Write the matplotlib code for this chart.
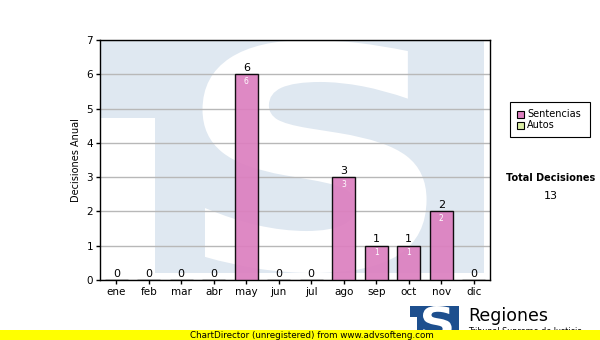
import numpy as np
import matplotlib
matplotlib.use('Agg')
import matplotlib.pyplot as plt
from matplotlib.patches import Rectangle, PathPatch
from matplotlib.textpath import TextPath
from matplotlib.font_manager import FontProperties
from matplotlib.transforms import Affine2D

# ---- data --------------------------------------------------------------------
months = ['ene', 'feb', 'mar', 'abr', 'may', 'jun', 'jul', 'ago', 'sep', 'oct', 'nov', 'dic']
sentencias = [0, 0, 0, 0, 6, 0, 0, 3, 1, 1, 2, 0]
series_names = ['Sentencias', 'Autos']
total_label = 'Total Decisiones'
total_value = 13

PINK = '#dc7fbf'
GREEN = '#dcefa6'
WM = '#dfe8f1'
LOGO = '#1d4f8e'

W, H = 600, 340
fig = plt.figure(figsize=(W / 100, H / 100), dpi=100)

# background canvas in pixel coordinates (y down)
bg = fig.add_axes([0, 0, 1, 1], zorder=0)
bg.set_xlim(0, W); bg.set_ylim(H, 0); bg.axis('off')


def s_glyph(x0, y0, x1, y1):
    tp = TextPath((0, 0), 'S', size=100, prop=FontProperties(family='DejaVu Sans', weight='bold'))
    ext = tp.get_extents()
    sx = (x1 - x0) / ext.width
    sy = (y1 - y0) / ext.height
    tr = Affine2D().translate(-ext.x0, -ext.y0).scale(sx, -sy).translate(x0, y1)
    return tr.transform_path(tp)


def logo(x0, y0, x1, y1, blue, white):
    w, h = x1 - x0, y1 - y0
    bg.add_patch(Rectangle((x0, y0), w, h, fc=blue, ec='none'))
    bg.add_patch(Rectangle((x0, y0 + 0.335 * h), 0.14 * w, 0.67 * h, fc=white, ec='none'))
    bg.add_patch(PathPatch(s_glyph(x0 + 0.265 * w, y0, x0 + 0.85 * w, y1), fc=white, ec='none'))


# watermark behind plot
logo(101, 40, 484, 273, WM, 'white')

# small logo + footer
logo(410, 306, 459, 338, LOGO, 'white')
bg.text(468, 316, 'Regiones', fontsize=12.5, va='center', ha='left', family='DejaVu Sans')
bg.text(468, 332, 'Tribunal Supremo de Justicia', fontsize=5.8, va='center', ha='left')
bg.add_patch(Rectangle((0, 330), W, 10, fc='#ffff00', ec='none', zorder=5))
bg.text(190, 335, 'ChartDirector (unregistered) from www.advsofteng.com', fontsize=6.3,
        va='center', ha='left', zorder=6)

# ---- main chart --------------------------------------------------------------
ax = fig.add_axes([100 / W, (H - 280) / H, 390 / W, 240 / H], zorder=1)
ax.set_facecolor('none')
x = np.arange(len(months))
ax.bar(x, sentencias, width=0.71, color=PINK, alpha=0.92, edgecolor='black', linewidth=1, zorder=3)
for xi, v in zip(x, sentencias):
    ax.text(xi, v + 0.04, str(v), ha='center', va='bottom', fontsize=8, zorder=4)
    if v > 0:
        ax.text(xi, v - 0.08, str(v), ha='center', va='top', fontsize=5.5, color='white', zorder=4)

ax.set_xlim(-0.5, len(months) - 0.5)
ax.set_ylim(0, 7)
ax.set_yticks(range(0, 8))
ax.set_xticks(x)
ax.set_xticklabels(months)
ax.tick_params(labelsize=7.5, length=3, width=1, pad=2)
ax.yaxis.grid(True, color='#b8b8b8', lw=1, zorder=1)
ax.set_axisbelow(True)
for s in ax.spines.values():
    s.set_linewidth(1)
ax.set_ylabel('Decisiones Anual', fontsize=7, labelpad=4)

# legend
bg.add_patch(Rectangle((510, 102), 80, 35, fc='white', ec='black', lw=0.8))
for i, (name, c) in enumerate(zip(series_names, [PINK, GREEN])):
    yy = 114 + i * 11
    bg.add_patch(Rectangle((517, yy - 3.5), 7, 7, fc=c, ec='black', lw=0.8))
    bg.text(527, yy, name, fontsize=7, va='center', ha='left')

bg.text(551, 178, total_label, fontsize=7, weight='bold', ha='center', va='center')
bg.text(551, 196, str(total_value), fontsize=8, ha='center', va='center')

fig.savefig('out.png', dpi=100)
